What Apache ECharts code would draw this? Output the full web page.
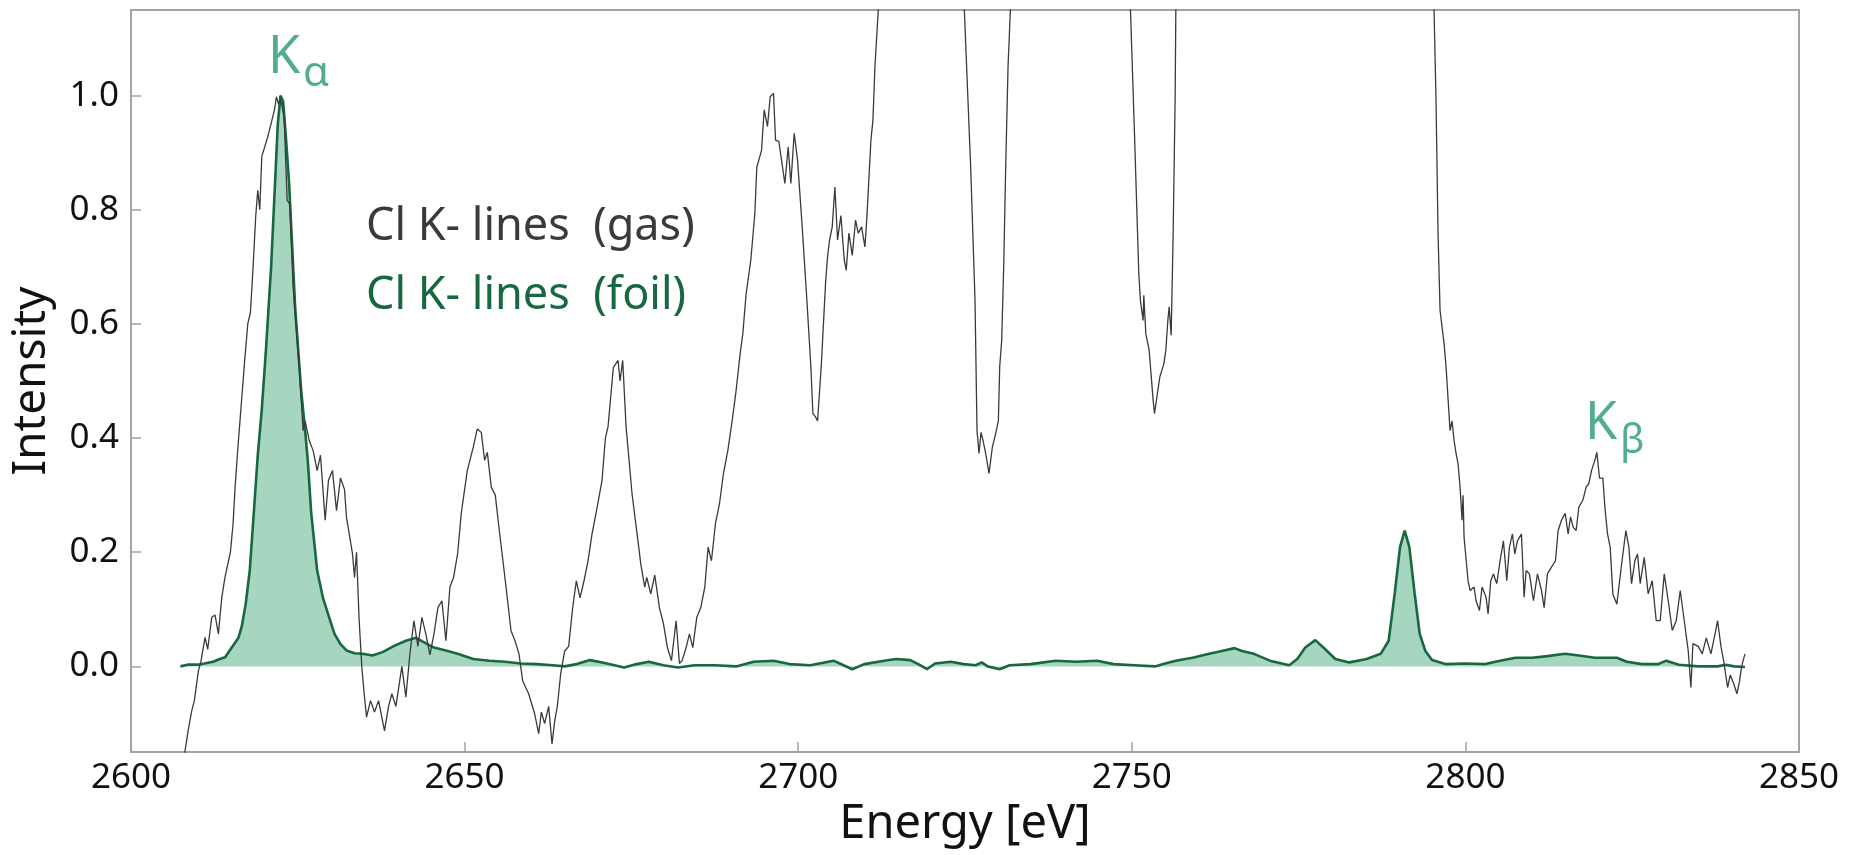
<!DOCTYPE html>
<html>
<head>
<meta charset="utf-8">
<title>Cl K-lines</title>
<script src="https://cdn.jsdelivr.net/npm/echarts@6.0.0/dist/echarts.min.js"></script>
<style>
  html, body { margin: 0; padding: 0; background: #fff; }
  #chart { width: 1851px; height: 855px; }
</style>
</head>
<body>
<div id="chart"></div>
<script>
// Cl K-lines, gas (thin gray) vs foil (filled green). [energy eV, intensity]
var gasPoints = [
  [2607.8, -0.20], [2608.1, -0.148], [2608.6, -0.11], [2609.1, -0.078], [2609.5, -0.06],
  [2610.1, -0.008], [2610.5, 0.01], [2611.1, 0.051], [2611.5, 0.03], [2612.1, 0.086],
  [2612.6, 0.09], [2613.1, 0.057], [2613.6, 0.12], [2614.1, 0.157], [2614.9, 0.20],
  [2615.3, 0.25], [2615.6, 0.314], [2616.0, 0.38], [2616.4, 0.44], [2617.0, 0.53],
  [2617.5, 0.60], [2617.9, 0.62], [2618.3, 0.70], [2618.7, 0.79], [2619.0, 0.834],
  [2619.3, 0.80], [2619.6, 0.893], [2620.5, 0.928], [2621.0, 0.951], [2621.5, 0.975],
  [2621.8, 0.998], [2622.1, 0.985], [2622.4, 0.995], [2622.95, 0.963], [2623.4, 0.817],
  [2623.8, 0.81], [2624.3, 0.665], [2624.7, 0.601], [2625.2, 0.524], [2625.8, 0.413],
  [2626.1, 0.43], [2626.7, 0.396], [2627.3, 0.378], [2627.9, 0.343], [2628.4, 0.37],
  [2629.1, 0.256], [2629.6, 0.326], [2630.2, 0.343], [2630.8, 0.273], [2631.4, 0.33],
  [2632.0, 0.31], [2632.3, 0.261], [2633.2, 0.197], [2633.5, 0.156], [2633.8, 0.20],
  [2634.2, 0.08], [2634.6, -0.002], [2635.0, -0.054], [2635.3, -0.089], [2635.9, -0.06],
  [2636.5, -0.08], [2637.1, -0.06], [2638.0, -0.113], [2638.6, -0.07], [2639.1, -0.048],
  [2639.7, -0.07], [2640.6, 0.0], [2641.2, -0.054], [2641.8, 0.022], [2642.4, 0.08],
  [2643.0, 0.035], [2643.6, 0.086], [2644.2, 0.056], [2644.8, 0.02], [2645.4, 0.056],
  [2646.0, 0.103], [2646.6, 0.115], [2647.2, 0.045], [2647.8, 0.139], [2648.35, 0.156],
  [2648.95, 0.197], [2649.5, 0.268], [2650.4, 0.343], [2651.3, 0.384], [2651.9, 0.416],
  [2652.5, 0.41], [2653.0, 0.361], [2653.4, 0.375], [2654.0, 0.314], [2654.6, 0.30],
  [2655.2, 0.238], [2656.1, 0.15], [2656.95, 0.063], [2657.55, 0.045], [2658.15, 0.022],
  [2658.7, -0.025], [2659.6, -0.048], [2660.5, -0.083], [2661.1, -0.118], [2661.5, -0.08],
  [2662.0, -0.10], [2662.6, -0.07], [2663.1, -0.136], [2663.5, -0.096], [2663.9, -0.07],
  [2664.4, -0.013], [2665.0, 0.027], [2665.6, 0.035], [2666.2, 0.103], [2666.75, 0.15],
  [2667.3, 0.12], [2667.9, 0.15], [2668.5, 0.185], [2669.1, 0.232], [2669.7, 0.268],
  [2670.6, 0.326], [2671.1, 0.40], [2671.5, 0.42], [2672.3, 0.524], [2673.0, 0.536],
  [2673.3, 0.50], [2673.7, 0.536], [2674.2, 0.42], [2675.1, 0.302], [2676.1, 0.209],
  [2676.4, 0.18], [2677.0, 0.139], [2677.3, 0.156], [2677.9, 0.127], [2678.5, 0.16],
  [2679.2, 0.103], [2679.8, 0.075], [2680.4, 0.033], [2681.0, 0.01], [2681.7, 0.08],
  [2682.2, 0.005], [2682.6, 0.01], [2683.2, 0.033], [2683.7, 0.057], [2684.2, 0.033],
  [2684.8, 0.086], [2685.4, 0.103], [2686.0, 0.139], [2686.5, 0.209], [2687.0, 0.185],
  [2687.6, 0.25], [2688.2, 0.285], [2688.8, 0.338], [2689.45, 0.378], [2690.1, 0.43],
  [2690.7, 0.484], [2691.3, 0.548], [2691.7, 0.583], [2692.2, 0.653], [2692.9, 0.712],
  [2693.5, 0.793], [2693.8, 0.875], [2694.1, 0.887], [2694.5, 0.904], [2694.9, 0.975],
  [2695.4, 0.946], [2695.8, 0.998], [2696.3, 1.004], [2696.6, 0.922], [2697.1, 0.92],
  [2697.5, 0.887], [2698.0, 0.846], [2698.5, 0.91], [2698.9, 0.846], [2699.4, 0.934],
  [2699.9, 0.887], [2700.6, 0.77], [2701.3, 0.642], [2701.9, 0.525], [2702.2, 0.443],
  [2702.6, 0.437], [2702.9, 0.43], [2703.45, 0.525], [2704.1, 0.671], [2704.4, 0.718],
  [2704.7, 0.747], [2705.1, 0.77], [2705.5, 0.84], [2705.9, 0.747], [2706.4, 0.79],
  [2706.9, 0.712], [2707.2, 0.694], [2707.6, 0.759], [2708.1, 0.72], [2708.6, 0.782],
  [2709.0, 0.759], [2709.5, 0.77], [2710.0, 0.735], [2710.3, 0.788], [2710.9, 0.922],
  [2711.2, 0.957], [2711.5, 1.05], [2712.0, 1.15], [2712.5, 1.30],
  [2724.6, 1.30], [2724.9, 1.15], [2725.85, 0.875], [2726.5, 0.642], [2726.8, 0.413],
  [2727.1, 0.373], [2727.4, 0.41], [2727.7, 0.396], [2728.1, 0.373], [2728.6, 0.338],
  [2729.1, 0.384], [2729.6, 0.408], [2730.0, 0.43], [2730.2, 0.525], [2730.5, 0.571],
  [2730.8, 0.70], [2731.1, 0.875], [2731.45, 1.05], [2731.8, 1.15], [2732.1, 1.30],
  [2749.5, 1.30], [2749.8, 1.15], [2750.4, 0.934], [2751.05, 0.688], [2751.3, 0.64],
  [2751.7, 0.606], [2751.8, 0.65], [2752.1, 0.583], [2752.6, 0.554], [2753.2, 0.466],
  [2753.4, 0.443], [2754.2, 0.507], [2754.8, 0.53], [2755.1, 0.554], [2755.4, 0.606],
  [2755.6, 0.63], [2755.9, 0.58], [2756.2, 0.759], [2756.5, 1.0], [2756.6, 1.15],
  [2757.0, 1.30],
  [2795.0, 1.30], [2795.3, 1.15], [2795.6, 0.99], [2795.9, 0.759], [2796.2, 0.624],
  [2796.8, 0.566], [2797.1, 0.525], [2797.7, 0.413], [2798.0, 0.43], [2798.3, 0.396],
  [2798.6, 0.373], [2798.9, 0.355], [2799.2, 0.314], [2799.5, 0.256], [2799.65, 0.30],
  [2799.8, 0.226], [2800.4, 0.15], [2800.7, 0.133], [2801.3, 0.139], [2801.6, 0.115],
  [2802.1, 0.098], [2802.5, 0.139], [2803.1, 0.121], [2803.4, 0.092], [2803.8, 0.15],
  [2804.2, 0.162], [2804.7, 0.145], [2805.2, 0.185], [2805.7, 0.22], [2806.2, 0.15],
  [2806.6, 0.209], [2807.05, 0.232], [2807.4, 0.197], [2807.8, 0.22], [2808.4, 0.232],
  [2808.8, 0.121], [2809.1, 0.168], [2809.6, 0.162], [2810.2, 0.115], [2810.8, 0.162],
  [2811.4, 0.133], [2811.8, 0.103], [2812.3, 0.162], [2812.9, 0.174], [2813.5, 0.185],
  [2813.9, 0.238], [2814.4, 0.256], [2814.95, 0.268], [2815.4, 0.232], [2815.75, 0.262],
  [2816.15, 0.244], [2816.6, 0.238], [2817.0, 0.279], [2817.6, 0.291], [2818.1, 0.314],
  [2818.5, 0.32], [2818.9, 0.343], [2819.4, 0.361], [2819.7, 0.375], [2820.1, 0.33],
  [2820.6, 0.33], [2820.9, 0.28], [2821.3, 0.232], [2821.7, 0.209], [2822.1, 0.127],
  [2822.7, 0.109], [2823.3, 0.168], [2824.05, 0.238], [2824.5, 0.209], [2824.9, 0.145],
  [2825.4, 0.185], [2825.8, 0.197], [2826.2, 0.145], [2826.8, 0.191], [2827.4, 0.127],
  [2828.0, 0.15], [2828.6, 0.08], [2829.2, 0.08], [2829.8, 0.162], [2830.4, 0.115],
  [2831.0, 0.063], [2831.6, 0.08], [2832.2, 0.133], [2832.8, 0.08], [2833.4, 0.027],
  [2833.8, -0.037], [2834.1, 0.04], [2834.9, 0.035], [2835.5, 0.022], [2836.1, 0.05],
  [2836.8, 0.022], [2837.4, 0.056], [2837.8, 0.08], [2838.3, 0.035], [2838.7, 0.01],
  [2839.3, -0.037], [2839.7, -0.015], [2840.2, -0.03], [2840.7, -0.048], [2841.1, -0.025],
  [2841.4, 0.0], [2841.9, 0.022]
];

var foilPoints = [
  [2607.4, 0.0], [2608.5, 0.003], [2610.0, 0.003], [2611.0, 0.005], [2612.3, 0.008],
  [2613.3, 0.013], [2614.1, 0.016], [2615.1, 0.033], [2616.1, 0.05], [2616.6, 0.07],
  [2617.2, 0.11], [2617.8, 0.168], [2618.4, 0.268], [2619.0, 0.37], [2619.6, 0.45],
  [2620.2, 0.55], [2621.0, 0.70], [2621.6, 0.85], [2622.0, 0.95], [2622.4, 1.0],
  [2622.8, 0.99], [2623.2, 0.93], [2623.7, 0.846], [2624.6, 0.63], [2625.5, 0.484],
  [2626.1, 0.413], [2626.5, 0.36], [2627.0, 0.27], [2627.9, 0.168], [2628.75, 0.121],
  [2629.7, 0.086], [2630.5, 0.057], [2631.4, 0.039], [2632.3, 0.028], [2633.5, 0.023],
  [2634.7, 0.022], [2636.2, 0.019], [2637.7, 0.025], [2639.45, 0.036], [2641.2, 0.045],
  [2642.7, 0.05], [2643.8, 0.043], [2645.4, 0.033], [2647.2, 0.028], [2648.95, 0.022],
  [2651.3, 0.013], [2653.7, 0.01], [2656.05, 0.008], [2658.45, 0.005], [2660.8, 0.004],
  [2663.2, 0.002], [2665.0, 0.0], [2666.8, 0.004], [2668.8, 0.011], [2671.0, 0.006],
  [2673.9, -0.002], [2675.8, 0.004], [2677.6, 0.008], [2679.8, 0.002], [2682.0, -0.002],
  [2684.5, 0.002], [2687.5, 0.002], [2690.7, 0.0], [2693.3, 0.008], [2696.3, 0.01],
  [2698.7, 0.004], [2701.8, 0.002], [2705.3, 0.01], [2706.8, 0.002], [2708.1, -0.005],
  [2709.9, 0.004], [2712.9, 0.01], [2714.65, 0.013], [2716.8, 0.011], [2718.0, 0.004],
  [2719.3, -0.005], [2720.5, 0.005], [2722.9, 0.008], [2724.8, 0.004], [2726.6, 0.002],
  [2727.5, 0.007], [2728.4, 0.0], [2730.2, -0.005], [2731.7, 0.002], [2734.8, 0.004],
  [2738.6, 0.01], [2741.7, 0.008], [2744.8, 0.01], [2747.3, 0.004], [2750.4, 0.002],
  [2753.5, 0.0], [2754.7, 0.004], [2756.6, 0.01], [2759.1, 0.015], [2761.6, 0.022],
  [2763.5, 0.027], [2765.4, 0.032], [2766.5, 0.027], [2768.3, 0.022], [2770.7, 0.01],
  [2773.6, 0.002], [2774.8, 0.013], [2776.0, 0.033], [2777.5, 0.046], [2779.0, 0.03],
  [2780.5, 0.013], [2782.6, 0.007], [2785.2, 0.013], [2787.3, 0.022], [2788.5, 0.045],
  [2789.4, 0.127], [2790.2, 0.209], [2790.9, 0.238], [2791.6, 0.209], [2792.4, 0.127],
  [2793.15, 0.057], [2794.0, 0.027], [2795.0, 0.011], [2797.0, 0.004], [2800.0, 0.005],
  [2803.0, 0.004], [2805.2, 0.01], [2807.5, 0.015], [2810.0, 0.015], [2812.3, 0.018],
  [2814.95, 0.022], [2817.0, 0.019], [2819.4, 0.015], [2822.7, 0.015], [2824.2, 0.008],
  [2826.5, 0.004], [2828.9, 0.004], [2830.1, 0.01], [2832.0, 0.003], [2834.9, 0.0],
  [2837.8, 0.0], [2839.0, 0.003], [2840.3, 0.0], [2841.9, -0.001]
];

var yTickValues = [0, 0.2, 0.4, 0.6, 0.8, 1.0];

var FONT = '"Noto Sans", "DejaVu Sans", sans-serif';
var teal = '#52ad8e';

var option = {
    animation: false,
    backgroundColor: '#fff',
    grid: {
        left: 131, right: 52, top: 10, bottom: 103,
        show: true,
        borderColor: '#a3a3a3',
        borderWidth: 2
    },
    xAxis: {
        type: 'value',
        min: 2600, max: 2850, interval: 50,
        name: 'Energy [eV]',
        nameLocation: 'middle',
        nameGap: 48,
        nameTextStyle: { fontSize: 47, fontFamily: FONT, color: '#111' },
        axisLine: { onZero: false, lineStyle: { color: '#a3a3a3', width: 2 } },
        axisTick: { inside: true, length: 10, lineStyle: { color: '#a3a3a3', width: 1.5 } },
        axisLabel: { fontSize: 35, fontFamily: FONT, color: '#111', margin: 9,
                     formatter: function (v) { return String(v); } },
        splitLine: { show: false }
    },
    yAxis: {
        type: 'value',
        min: -0.15, max: 1.15,
        name: 'Intensity',
        nameLocation: 'middle',
        nameGap: 76,
        nameTextStyle: { fontSize: 46, fontFamily: FONT, color: '#111' },
        axisLine: { onZero: false, lineStyle: { color: '#a3a3a3', width: 2 } },
        axisTick: { inside: true, length: 10, customValues: yTickValues,
                    lineStyle: { color: '#a3a3a3', width: 1.5 } },
        axisLabel: { fontSize: 35, fontFamily: FONT, color: '#111', margin: 12,
                     customValues: yTickValues,
                     formatter: function (v) { return v.toFixed(1); } },
        splitLine: { show: false }
    },
    graphic: [
        { type: 'text', x: 268, y: 58, style: { text: 'K', font: '52px ' + FONT, fill: teal, textVerticalAlign: 'middle' } },
        { type: 'text', x: 303, y: 74, style: { text: 'α', font: '42px ' + FONT, fill: teal, textVerticalAlign: 'middle' } },
        { type: 'text', x: 1585, y: 424, style: { text: 'K', font: '52px ' + FONT, fill: teal, textVerticalAlign: 'middle' } },
        { type: 'text', x: 1620, y: 442, style: { text: 'β', font: '40px ' + FONT, fill: teal, textVerticalAlign: 'middle' } },
        { type: 'text', x: 366, y: 227, style: { text: 'Cl K- lines  (gas)', font: '45px ' + FONT, fill: '#3a3a3a', textVerticalAlign: 'middle' } },
        { type: 'text', x: 366, y: 296, style: { text: 'Cl K- lines  (foil)', font: '45px ' + FONT, fill: '#17683f', textVerticalAlign: 'middle' } }
    ],
    series: [
        {
            name: 'foil',
            type: 'line',
            data: foilPoints,
            showSymbol: false,
            lineStyle: { color: '#17683f', width: 2.6 },
            itemStyle: { color: '#17683f' },
            areaStyle: { color: '#a6d6bf', opacity: 1 },
            z: 2
        },
        {
            name: 'gas',
            type: 'line',
            data: gasPoints,
            showSymbol: false,
            clip: true,
            lineStyle: { color: '#3a3a3a', width: 1.3 },
            itemStyle: { color: '#3a3a3a' },
            z: 3
        }
    ]
};

var myChart = echarts.init(document.getElementById('chart'));
myChart.setOption(option);
window.onresize = function () {
    myChart.resize();
};
</script>
</body>
</html>
